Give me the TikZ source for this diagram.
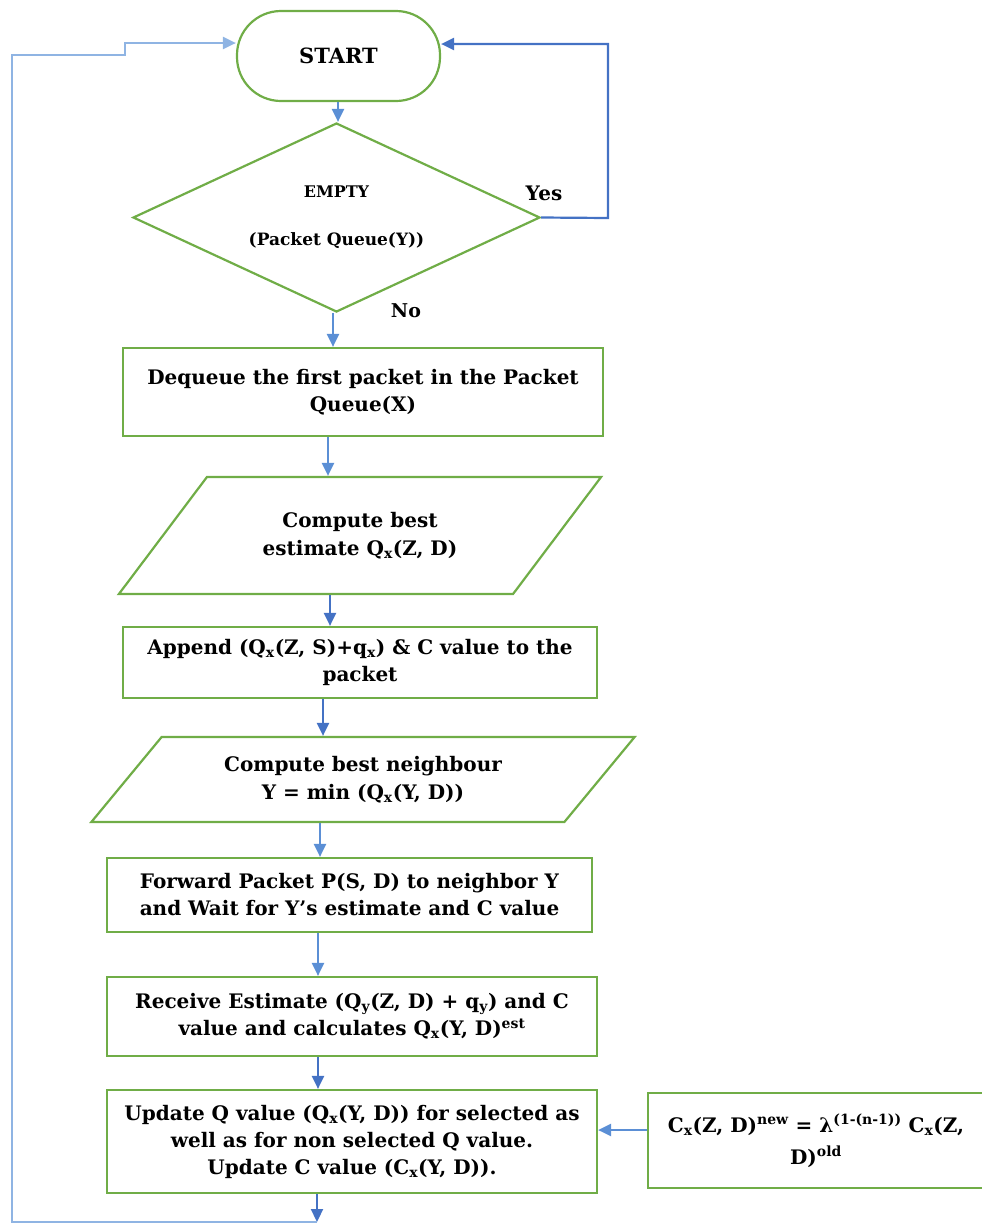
\documentclass[tikz,border=0pt]{standalone}
\usepackage{fontspec}
\setmainfont{DejaVu Serif}
\usetikzlibrary{shapes.geometric,arrows.meta}
\definecolor{boxgreen}{HTML}{70AD47}
\definecolor{flowblue}{HTML}{5B8FD5}
\definecolor{darkblue}{HTML}{4472C4}
\definecolor{loopblue}{HTML}{8FB4E3}
\tikzset{
  tip/.style={-{Triangle[length=13pt,width=12pt]}},
  stepbox/.style={draw=boxgreen,line width=2.2pt,rectangle,align=center,inner sep=0pt,
    font=\fontsize{20}{27}\selectfont\bfseries},
  iobox/.style={draw=boxgreen,line width=2.2pt,trapezium,trapezium stretches=true,
    inner sep=0pt,align=center,font=\fontsize{20}{28}\selectfont\bfseries},
  flow/.style={draw=flowblue,line width=2.2pt,tip},
  lbl/.style={font=\fontsize{20}{24}\selectfont\bfseries,inner sep=0pt},
}
\begin{document}
\begin{tikzpicture}[x=1pt,y=-1pt]
\useasboundingbox (0,0) rectangle (982,1227);

% process nodes
\node[draw=boxgreen,line width=2.2pt,rectangle,rounded corners=44pt,minimum width=203pt,
  minimum height=90pt,font=\fontsize{21}{24}\selectfont\bfseries] (start) at (338.5,56) {START};
\node[draw=boxgreen,line width=2.2pt,diamond,aspect=2.15,minimum width=407pt,minimum height=189pt,
  inner sep=0pt,align=center,font=\fontsize{17}{20}\selectfont\bfseries] (dec) at (336.5,217.5)
  {{\fontsize{16}{20}\selectfont EMPTY}\\[28pt](Packet Queue(Y))};
\node[stepbox,minimum width=480pt,minimum height=88pt] (deq) at (363,392)
  {Dequeue the first packet in the Packet\\Queue(X)};
\node[iobox,minimum width=484pt,minimum height=117pt,trapezium left angle=39.9,
  trapezium right angle=140.1] (est) at (360,535.5)
  {Compute best\\estimate Q\textsubscript{x}(Z, D)};
\node[stepbox,minimum width=474pt,minimum height=71pt] (app) at (360,662.5)
  {Append (Q\textsubscript{x}(Z, S)+q\textsubscript{x}) \& C value to the\\packet};
\node[iobox,minimum width=546pt,minimum height=85pt,trapezium left angle=44,
  trapezium right angle=136] (nbr) at (363,779.5)
  {Compute best neighbour\\Y = min (Q\textsubscript{x}(Y, D))};
\node[stepbox,minimum width=485pt,minimum height=74pt] (fwd) at (349.5,895)
  {Forward Packet P(S, D) to neighbor Y\\and Wait for Y's estimate and C value};
\node[stepbox,minimum width=490pt,minimum height=79pt] (rcv) at (352,1016.5)
  {Receive Estimate (Q\textsubscript{y}(Z, D) + q\textsubscript{y}) and C\\value and calculates Q\textsubscript{x}(Y, D)\textsuperscript{est}};
\node[stepbox,minimum width=490pt,minimum height=103pt] (upd) at (352,1141.5)
  {Update Q value (Q\textsubscript{x}(Y, D)) for selected as\\well as for non selected Q value.\\Update C value (C\textsubscript{x}(Y, D)).};
\node[stepbox,minimum width=336pt,minimum height=95pt,
  font=\fontsize{20}{32}\selectfont\bfseries] (cval) at (816,1140.5)
  {C\textsubscript{x}(Z, D)\textsuperscript{new} = λ\textsuperscript{(1-(n-1))} C\textsubscript{x}(Z,\\D)\textsuperscript{old}};

% branch labels
\node[lbl] (yes) at (544,193) {Yes};
\node[lbl,font=\fontsize{19}{24}\selectfont\bfseries] (no) at (406,311) {No};

% main flow
\draw[flow] (338,0 |- start.south) -- (338,0 |- dec.north);
\draw[flow] (333,0 |- dec.south) -- (333,0 |- deq.north);
\draw[flow] (328,0 |- deq.south) -- (328,0 |- est.north);
\draw[flow,draw=darkblue] (330,0 |- est.south) -- (330,0 |- app.north);
\draw[flow,draw=darkblue] (323,0 |- app.south) -- (323,0 |- nbr.north);
\draw[flow] (320,0 |- nbr.south) -- (320,0 |- fwd.north);
\draw[flow] (318,0 |- fwd.south) -- (318,0 |- rcv.north);
\draw[flow,draw=darkblue] (318,0 |- rcv.south) -- (318,0 |- upd.north);
\draw[flow] (cval.west |- 0,1130) -- (upd.east |- 0,1130);

% "Yes" loop back to START
\coordinate (yesturn) at (608,218);
\draw[flow,draw=darkblue] (dec.east) -- (yesturn) -- (608,44) -- (start.east |- 0,44);

% return loop from the last step back to START
\coordinate (loopend) at (317,1222);
\draw[flow,draw=darkblue] (317,0 |- upd.south) -- (loopend);
\draw[flow,draw=loopblue]
  (loopend) -- (12,1222) -- (12,55) -- (125,55) -- (125,43) -- (start.west |- 0,43);
\end{tikzpicture}
\end{document}
